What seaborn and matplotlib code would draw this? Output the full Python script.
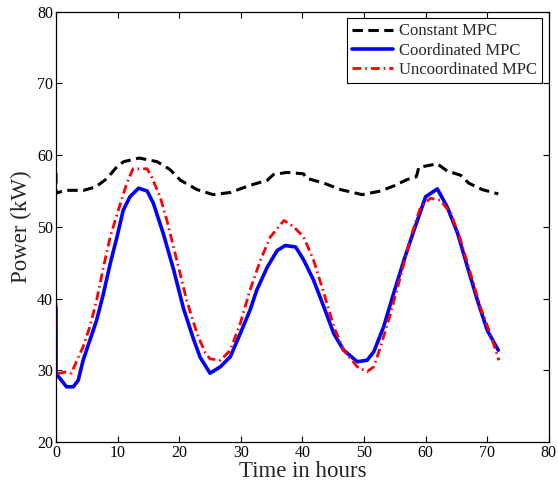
import matplotlib
matplotlib.use("Agg")
import matplotlib.pyplot as plt
import pandas as pd
import seaborn as sns

# values
t_const = [0, 0, 1.5, 4.5, 6.5, 8.2, 9.9, 11.0, 13.5, 16.4, 18.5, 20.2, 22.9,
           25.5, 28.3, 31.5, 34.3, 35.3, 37.5, 40.2, 40.6, 43.5, 46.2, 49.7,
           52.7, 54.8, 57.0, 58.5, 58.9, 61.9, 63.5, 65.7, 67.0, 69.2, 71.8]
p_const = [57.5, 54.7, 55.1, 55.1, 55.6, 56.7, 58.4, 59.1, 59.6, 59.1, 58.0,
           56.5, 55.2, 54.5, 54.8, 55.8, 56.5, 57.3, 57.6, 57.4, 56.8, 56.1,
           55.2, 54.5, 55.0, 55.7, 56.6, 57.0, 58.3, 58.8, 57.8, 57.2, 56.1,
           55.2, 54.6]

t_coord = [0, 0, 0.6, 1.7, 2.8, 3.6, 4.4, 5.5, 6.6, 7.7, 8.8, 9.9, 10.9, 12.0,
           13.4, 14.8, 15.8, 17.4, 19.1, 20.7, 22.3, 23.4, 25.0, 26.7, 28.3,
           29.9, 31.5, 32.6, 34.3, 35.9, 37.2, 38.9, 40.2, 41.8, 43.5, 45.1,
           46.7, 48.9, 50.5, 51.6, 53.2, 54.8, 56.5, 58.1, 60.0, 61.9, 63.5,
           65.2, 66.8, 68.4, 70.0, 71.8]
p_coord = [38.8, 29.5, 28.9, 27.7, 27.7, 28.6, 31.4, 34.2, 37.0, 40.7, 44.9,
           48.6, 52.3, 54.2, 55.4, 55.0, 53.3, 49.1, 44.0, 38.6, 34.4, 31.8,
           29.6, 30.5, 31.9, 35.1, 38.4, 41.2, 44.4, 46.7, 47.4, 47.2, 45.4,
           42.6, 38.8, 35.1, 32.8, 31.2, 31.4, 32.6, 36.1, 40.7, 45.4, 49.5,
           54.2, 55.3, 52.8, 49.1, 44.4, 39.8, 35.6, 32.8]

t_uncoord = [0, 0, 0.6, 1.8, 2.5, 3.3, 4.4, 5.5, 6.6, 7.7, 8.8, 10.1, 11.5,
             12.5, 14.8, 15.5, 16.9, 18.0, 19.6, 21.2, 22.9, 24.2, 25.0, 26.7,
             28.3, 29.9, 31.5, 33.2, 34.8, 37.0, 38.6, 40.2, 41.8, 43.5, 45.1,
             46.7, 48.9, 50.5, 51.6, 52.7, 54.3, 55.9, 57.6, 59.2, 60.8, 62.4,
             64.1, 65.7, 67.3, 68.9, 70.5, 71.9]
p_uncoord = [39.5, 29.5, 29.6, 29.8, 29.6, 31.2, 33.3, 36.1, 39.8, 44.4, 48.6,
             52.3, 56.1, 58.1, 58.1, 57.0, 54.2, 50.9, 45.4, 39.8, 35.1, 32.5,
             31.6, 31.4, 32.8, 36.5, 41.2, 45.4, 48.6, 50.9, 50.0, 48.6, 45.4,
             40.7, 36.1, 32.8, 30.5, 29.8, 30.5, 33.3, 37.9, 43.0, 48.6, 52.8,
             54.0, 53.7, 51.9, 48.1, 43.5, 38.8, 35.1, 31.4]

x_ticks = [0, 10, 20, 30, 40, 50, 60, 70, 80]
y_ticks = [20, 30, 40, 50, 60, 70, 80]

sns.set_theme(style="ticks", rc={
    "xtick.direction": "in", "ytick.direction": "in",
    "xtick.top": True, "ytick.right": True,
    "xtick.major.size": 4, "ytick.major.size": 4,
    "xtick.major.width": 0.8, "ytick.major.width": 0.8,
    "axes.linewidth": 0.9, "axes.edgecolor": "black",
})
plt.rcParams["font.family"] = ["Liberation Serif", "DejaVu Serif"]

fig, ax = plt.subplots(figsize=(5.58, 4.91), dpi=100)
fig.subplots_adjust(left=0.1004, right=0.9835, bottom=0.0998, top=0.976)

df_c = pd.DataFrame({"t": t_const, "p": p_const})
df_co = pd.DataFrame({"t": t_coord, "p": p_coord})
df_u = pd.DataFrame({"t": t_uncoord, "p": p_uncoord})

sns.lineplot(data=df_c, x="t", y="p", ax=ax, sort=False, estimator=None,
             color="black", linewidth=2.2, linestyle=(0, (3.4, 1.8)),
             label="Constant MPC")
sns.lineplot(data=df_co, x="t", y="p", ax=ax, sort=False, estimator=None,
             color="#0000ff", linewidth=2.6, label="Coordinated MPC")
sns.lineplot(data=df_u, x="t", y="p", ax=ax, sort=False, estimator=None,
             color="#ff0000", linewidth=2.0,
             linestyle=(0, (3.2, 1.4, 0.6, 1.4)),
             label="Uncoordinated MPC")

ax.set_xlim(0, 80)
ax.set_ylim(20, 80)
ax.set_xticks(x_ticks)
ax.set_yticks(y_ticks)
ax.tick_params(labelsize=11.5, colors="black", pad=2)
ax.set_xlabel("Time in hours", fontsize=16.5, labelpad=0)
ax.set_ylabel("Power (kW)", fontsize=16.5, labelpad=4)

leg = ax.legend(loc="upper right", fontsize=12, frameon=True, fancybox=False,
                framealpha=1, edgecolor="black", handlelength=2.5,
                handletextpad=0.35, labelspacing=0.2, borderpad=0.3,
                borderaxespad=0.4)
leg.get_frame().set_linewidth(0.8)

fig.savefig("out.png", dpi=100)
